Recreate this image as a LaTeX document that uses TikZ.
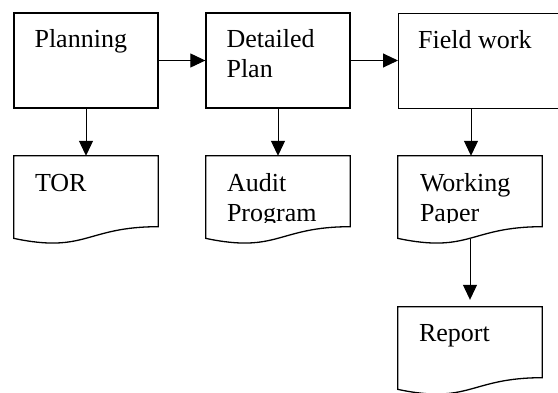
\documentclass[tikz,border=0pt]{standalone}
\usepackage{fontspec}
\setmainfont{Liberation Serif}
\usetikzlibrary{arrows.meta,calc}

\tikzset{
  outline/.style={draw=black, line width=1.3pt},
  procbox/.style={outline, rectangle, minimum width=144pt, minimum height=95pt, inner sep=0pt},
  docarea/.style={rectangle, minimum width=144pt, minimum height=88pt, inner sep=0pt},
  label/.style={anchor=base west, inner sep=0pt, align=left,
    font=\fontsize{26}{30}\selectfont},
  flow/.style={draw=black, line width=1pt, -{Triangle[length=15pt,width=14pt]}},
}

\begin{document}
\begin{tikzpicture}[x=1pt, y=-1pt]
  \clip (0,0) rectangle (558,392);
  \fill[white] (0,0) rectangle (558,392);

  % process boxes
  \node[procbox] (plan) at (86,60.5) {};
  \node[procbox] (detail) at (278,60.5) {};
  \node[procbox, minimum width=200pt, anchor=north west] (field) at (398,13) {};
  \coordinate (fieldout) at ($(field.south west)+(73,0)$);

  % labels: base anchor sits on the last line's baseline
  \node[label] (planT) at ($(plan.north west)+(21,35)$) {Planning};
  \node[label] (detailT) at ($(detail.north west)+(21,65)$) {Detailed\\Plan};
  \node[label] (fieldT) at ($(field.north west)+(20,35)$) {Field work};

  % document areas
  \node[docarea] (tor) at (86,200) {};
  \node[docarea] (audit) at (278,200) {};
  \node[docarea] (wp) at (470,200) {};
  \node[docarea] (report) at (470,351) {};

  % document outlines with wavy bottom edge
  \foreach \n in {tor,audit,wp,report} {
    \draw[outline, line join=miter]
      (\n.north west) -- (\n.north east)
      -- ($(\n.north east)!0.802!(\n.south east)$)
      .. controls ($(\n.north)!0.802!(\n.south)$)
             and ($(\n.north)!1.107!(\n.south)$)
      .. ($(\n.north west)!0.934!(\n.south west)$) -- cycle;
  }
  \coordinate (wpout) at ($(wp.north)!0.94!(wp.south)$);

  % document texts, cut off above the wavy edge
  \begin{scope}
    \clip (0,156) rectangle (558,222);
    \node[label] (torT) at ($(tor.north west)+(21,36)$) {TOR};
    \node[label] (auditT) at ($(audit.north west)+(21,66)$) {Audit\\Program};
    \node[label] (wpT) at ($(wp.north west)+(22,66)$) {Working\\Paper};
  \end{scope}
  \node[label] (reportT) at ($(report.north west)+(21,35)$) {Report};

  % connectors
  \draw[flow] (plan.east) -- (detail.west);
  \draw[flow] (detail.east) -- (detail.east -| field.west);
  \draw[flow] (plan.south) -- (tor.north);
  \draw[flow] (detail.south) -- (audit.north);
  \draw[flow] (fieldout) -- (fieldout |- wp.north);
  \draw[flow, shorten >=7pt] (wpout) -- (wpout |- report.north);
\end{tikzpicture}
\end{document}
